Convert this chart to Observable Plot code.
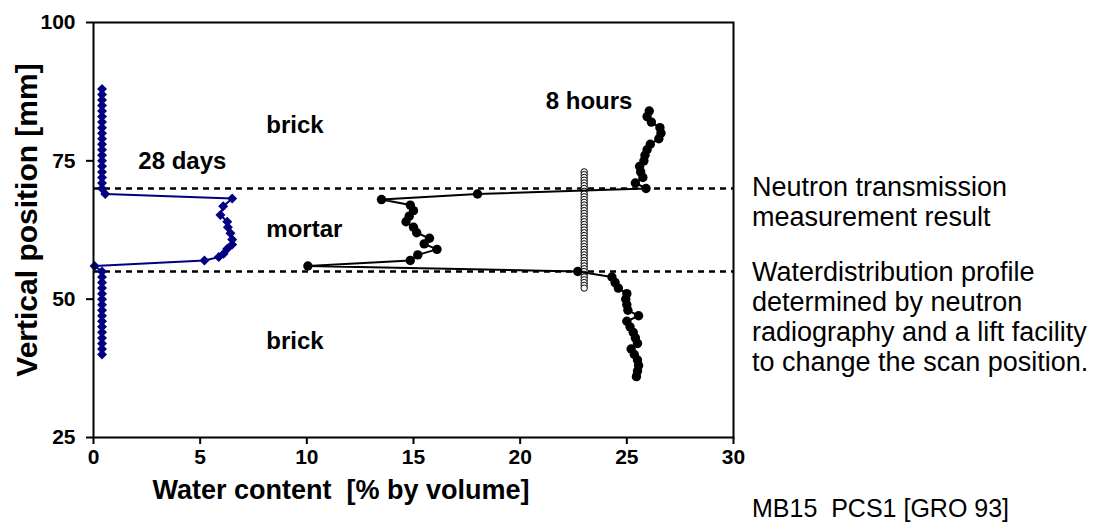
<!DOCTYPE html>
<html>
<head>
<meta charset="utf-8">
<script src="https://cdn.jsdelivr.net/npm/d3@7"></script>
<script src="https://cdn.jsdelivr.net/npm/@observablehq/plot@0.6"></script>
<style>
  html, body { margin: 0; padding: 0; background: #fff; }
  #wrap { position: relative; width: 1114px; height: 522px; overflow: hidden; font-family: "Liberation Sans", Arial, sans-serif; color: #000; }
  #wrap svg { position: absolute; left: 0; top: 0; }
  .note { position: absolute; left: 752px; font-size: 27px; line-height: 30px; white-space: nowrap; }
  .caption { position: absolute; left: 752px; font-size: 25px; line-height: 26px; white-space: nowrap; }
  .xtitle { position: absolute; font-size: 27px; line-height: 30px; font-weight: bold; white-space: nowrap; transform: translate(-50%, -50%); }
  .ytitle { position: absolute; font-size: 30px; font-weight: bold; white-space: nowrap; transform: translate(-50%, -50%) rotate(-90deg); }
</style>
</head>
<body>
<div id="wrap"></div>
<script>
// 28 days profile (blue diamonds)
const days28Pos = [88,87,86,85,84,83,82,81,80,79,78,77,76,75,74,73,72,71,70,69,
  68.2,66.8,65.2,64,63,61.9,60.8,59.9,59.1,58.2,57.6,57,
  56,55,54,53,52,51,50,49,48,47,46,45,44,43,42,41,40];
const days28Water = [0.4,0.4,0.4,0.4,0.4,0.4,0.4,0.4,0.4,0.4,0.4,0.4,0.4,0.4,0.4,0.4,0.4,0.4,0.4,0.55,
  6.5,6.08,5.95,6.27,6.3,6.42,6.5,6.5,6.27,6.1,5.87,5.2,
  0.05,0.4,0.4,0.4,0.4,0.4,0.4,0.4,0.4,0.4,0.4,0.4,0.4,0.4,0.4,0.4,0.4];

// 8 hours profile (black dots)
const hours8Pos = [84,83,82,81,80,79,78,77,76,75,74,73,72,71,70,
  69,68,67,66,65,64,63,62,61,60,59,58,57,56,55,
  54,53,52,51,50,49,48,47,46,45,44,43,42,41,40,39,38,37,36];
const hours8Water = [26.05,25.95,26.15,26.55,26.6,26.5,26.1,25.95,25.85,25.8,25.6,25.65,25.75,25.4,25.9,
  18.0,13.5,14.85,15.0,14.8,14.65,15.0,15.15,15.75,15.5,16.1,15.2,14.85,10.05,22.7,
  24.3,24.45,24.6,25.0,24.95,25.0,25.05,25.55,25.0,25.15,25.3,25.4,25.5,25.2,25.35,25.5,25.55,25.5,25.45];

// neutron transmission measurement (open circles)
const neutronPos = [73,72.5,72,71.5,71,70.5,70,69.5,69,68.5,68,67.5,67,66.5,66,65.5,65,64.5,64,63.5,63,62.5,
  62,61.5,61,60.5,60,59.5,59,58.5,58,57.5,57,56.5,56,55.5,55,54.5,54,53.5,53,52.5,52];
const neutronWater = [23,23,23,23,23,23,23,23,23,23,23,23,23,23,23,23,23,23,23,23,23,23,
  23,23,23,23,23,23,23,23,23,23,23,23,23,23,23,23,23,23,23,23,23];

// layer boundaries
const boundaries = [70, 55];

// axis ticks
const xTicks = [0,5,10,15,20,25,30];
const yTicks = [25,50,75,100];

// in-chart labels
const labelText = ["brick", "28 days", "mortar", "brick", "8 hours"];
const labelX = [8.1, 2.1, 8.1, 8.1, 21.2];
const labelY = [81.4, 74.9, 62.6, 42.3, 85.8];

const days28 = days28Pos.map((p, i) => ({pos: p, water: days28Water[i]}));
const hours8 = hours8Pos.map((p, i) => ({pos: p, water: hours8Water[i]}));
const neutron = neutronPos.map((p, i) => ({pos: p, water: neutronWater[i]}));
const labels = labelText.map((t, i) => ({text: t, x: labelX[i], y: labelY[i]}));

const chart = Plot.plot({
  width: 1114,
  height: 522,
  marginLeft: 93,
  marginRight: 381,
  marginTop: 22,
  marginBottom: 85,
  style: {fontFamily: "'Liberation Sans', Arial, sans-serif", fontSize: "21px", fontWeight: "bold", color: "#000", background: "#fff"},
  x: {domain: [0, 30]},
  y: {domain: [25, 100]},
  marks: [
    Plot.ruleY(boundaries, {x1: 0, x2: 30, stroke: "#000", strokeWidth: 2.5, strokeDasharray: "6,5"}),
    Plot.line(days28, {x: "water", y: "pos", stroke: "#000080", strokeWidth: 2}),
    Plot.dot(days28, {x: "water", y: "pos", symbol: "diamond2", r: 4.5, fill: "#000080", stroke: "none"}),
    Plot.dot(neutron, {x: "water", y: "pos", r: 3.2, fill: "#fff", stroke: "#000", strokeWidth: 1}),
    Plot.line(hours8, {x: "water", y: "pos", stroke: "#000", strokeWidth: 2}),
    Plot.dot(hours8, {x: "water", y: "pos", r: 4.7, fill: "#000", stroke: "none"}),
    Plot.text(labels, {x: "x", y: "y", text: "text", textAnchor: "start", fontSize: 24, fontWeight: "bold", fill: "#000"}),
    Plot.frame({stroke: "#000", strokeWidth: 2}),
    Plot.axisX({ticks: xTicks, tickSize: 7, tickPadding: 5, tickFormat: d3.format("d"), strokeWidth: 2, label: null}),
    Plot.axisY({ticks: yTicks, tickSize: 7, tickPadding: 11, tickFormat: d3.format("d"), strokeWidth: 2, label: null})
  ]
});

const wrap = document.getElementById("wrap");
wrap.appendChild(chart);

function addDiv(cls, html, style) {
  const d = document.createElement("div");
  d.className = cls;
  d.innerHTML = html;
  Object.assign(d.style, style);
  wrap.appendChild(d);
}
addDiv("xtitle", "Water content&nbsp;&nbsp;[% by volume]", {left: "341px", top: "490px"});
addDiv("ytitle", "Vertical position [mm]", {left: "27px", top: "220px"});
addDiv("note", "Neutron transmission<br>measurement result", {top: "172px"});
addDiv("note", "Waterdistribution profile<br>determined by neutron<br>radiography and a lift facility<br>to change the scan position.", {top: "257px"});
addDiv("caption", "MB15&nbsp;&nbsp;PCS1 [GRO 93]", {top: "495px"});
</script>
</body>
</html>
